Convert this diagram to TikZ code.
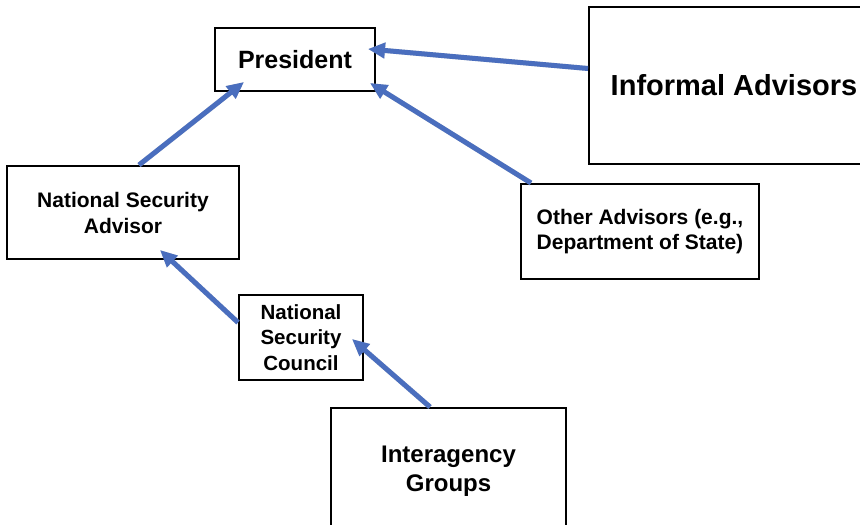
\documentclass[tikz,border=0pt]{standalone}
\usepackage{fontspec}
\setmainfont{Liberation Sans}
\usetikzlibrary{arrows.meta,calc}
\definecolor{linkblue}{HTML}{4A6EBE}
\tikzset{
  box/.style={draw=black, line width=2pt, rectangle, inner sep=0pt, align=center, font=\bfseries},
  link/.style={draw=linkblue, line width=5pt, -{Triangle[length=17pt,width=15pt]}},
  linkshadow/.style={draw=black!35, opacity=0.45, line width=5pt, -{Triangle[length=17pt,width=15pt]}, shift={(1.5,2)}},
}
\begin{document}
\begin{tikzpicture}[x=1pt,y=-1pt]
\useasboundingbox (0,0) rectangle (860,525);
\clip (0,0) rectangle (860,525);
\fill[white] (0,0) rectangle (860,525);

% boxes
\node[box, minimum width=160pt, minimum height=63pt, font=\bfseries\fontsize{25}{30}\selectfont] (pres) at (295,59.5) {President};
\node[box, minimum width=290pt, minimum height=157pt, font=\bfseries\fontsize{29}{34}\selectfont] (inf) at (734,85.5) {Informal Advisors};
\node[box, minimum width=238pt, minimum height=95pt, font=\bfseries\fontsize{21}{25}\selectfont] (oth) at (640,231.5) {Other Advisors (e.g.,\\Department of State)};
\node[box, minimum width=232pt, minimum height=93pt, font=\bfseries\fontsize{21}{26}\selectfont] (nsa) at (123,212.5) {National Security\\Advisor};
\node[box, minimum width=124pt, minimum height=85pt, font=\bfseries\fontsize{20.5}{25.5}\selectfont] (nsc) at (301,337.5) {National\\Security\\Council};
\node[box, minimum width=235pt, minimum height=126pt, font=\bfseries\fontsize{24}{29}\selectfont] (ig) at (448.5,471) {Interagency\\Groups};

% arrow tips inside the President, NSA and NSC boxes
\coordinate (presR) at (368,49);
\coordinate (presRB) at (370,83);
\coordinate (presLB) at (244,82);
\coordinate (nsaB) at (160,250);
\coordinate (nscR) at (352,339);

% arrow tails on the box borders
\coordinate (infW) at ($(inf.west)+(0,-17)$);
\coordinate (othN) at ($(oth.north west)+(11,0)$);
\coordinate (nsaN) at ($(nsa.north west)+(133,0)$);
\coordinate (nscW) at ($(nsc.west)+(0,-15)$);
\coordinate (igN) at ($(ig.north west)+(100,0)$);

% soft shadows under the connectors
\foreach \a/\b in {infW/presR, othN/presRB, nsaN/presLB, nscW/nsaB, igN/nscR}
  \draw[linkshadow] (\a) -- (\b);

% connectors
\draw[link] (infW) -- (presR);
\draw[link] (othN) -- (presRB);
\draw[link] (nsaN) -- (presLB);
\draw[link] (nscW) -- (nsaB);
\draw[link] (igN) -- (nscR);
\end{tikzpicture}
\end{document}
